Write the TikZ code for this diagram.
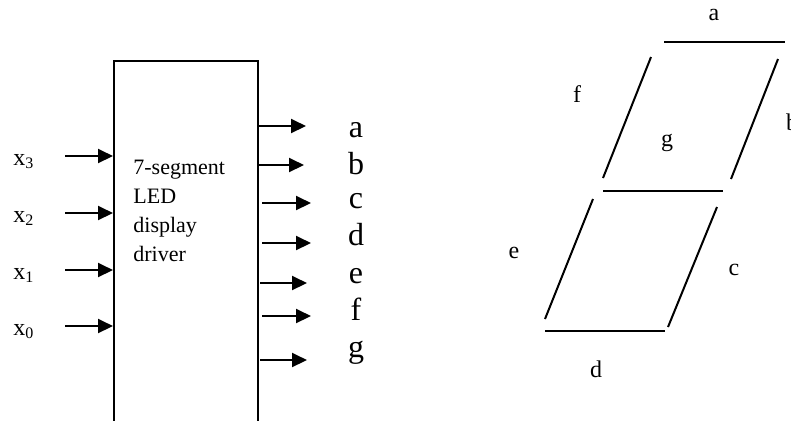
\documentclass[tikz,border=0pt]{standalone}
\usepackage{fontspec}
\setmainfont{Liberation Serif}
\usetikzlibrary{arrows.meta, positioning, calc}

\tikzset{
  drvbox/.style={draw, line width=1pt, minimum width=72pt, minimum height=182.5pt, inner sep=0pt},
  sig/.style={line width=1pt, -{Triangle[length=7.5pt, width=7pt]}},
  seg/.style={line width=1pt},
  inlbl/.style={font=\fontsize{12}{14}\selectfont, inner sep=0pt, anchor=base west},
  outlbl/.style={font=\fontsize{16}{19}\selectfont, inner sep=0pt, anchor=base},
  seglbl/.style={font=\fontsize{12}{14}\selectfont, inner sep=0pt, anchor=base},
}

\begin{document}
\begin{tikzpicture}[x=0.5pt, y=-0.5pt]
\useasboundingbox (0,0) rectangle (791,420);

% driver block
\node[drvbox, anchor=north west] (drv) at (113,60) {};
\node[font=\fontsize{11}{14.5}\selectfont, inner sep=0pt, anchor=base west] (drvtxt) at (133,174)
  {\begin{tabular}[t]{@{}l@{}}7-segment\\LED\\display\\driver\end{tabular}};

% inputs x3..x0
\foreach \i/\yy in {3/156, 2/213, 1/270, 0/326}{
  \coordinate (in\i) at (65,\yy);
  \node[inlbl] (x\i) at (13,\yy+9) {x\textsubscript{\i}};
  \draw[sig] (in\i) -- (in\i -| drv.west);
}

% outputs a..g
\foreach \s/\xa/\xb/\ya/\yl in {a/258/306/126/137, b/257/304/165/174, c/262/311/203/208,
    d/262/311/243/245, e/260/307/283/283, f/262/311/316/320, g/260/307/360/357}{
  \coordinate (o\s) at (\xa,\ya);
  \coordinate (t\s) at (\xb,\ya);
  \draw[sig] (o\s) -- (t\s);
  \node[outlbl] (l\s) at (356,\yl) {\s};
}

% seven segments
\draw[seg] (664,42) -- (785,42);   % a
\draw[seg] (778,59) -- (731,179);  % b
\draw[seg] (717,207) -- (668,327); % c
\draw[seg] (545,331) -- (665,331); % d
\draw[seg] (593,199) -- (545,319); % e
\draw[seg] (651,57) -- (603,178);  % f
\draw[seg] (603,191) -- (723,191); % g

\foreach \s/\sx/\sy in {a/714/20, b/792/130, c/734/275, d/596/377, e/514/258, f/577/102, g/667/146}
  \node[seglbl] (s\s) at (\sx,\sy) {\s};
\end{tikzpicture}
\end{document}
